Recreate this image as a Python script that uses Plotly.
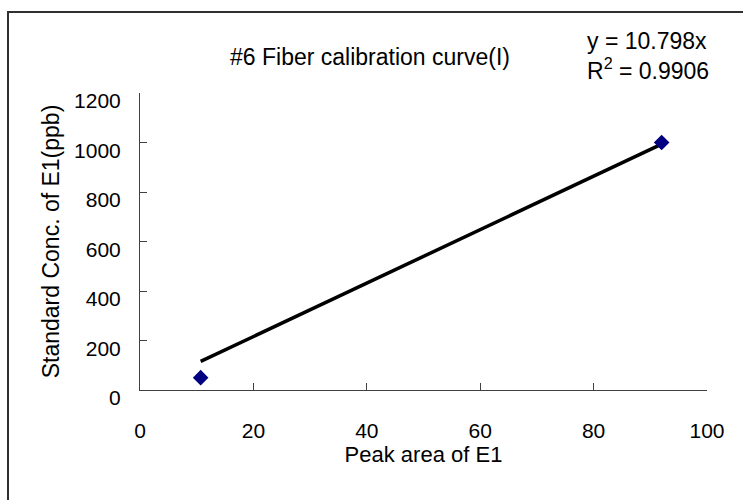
import plotly.graph_objects as go

# ---- data ----
peak_area = [10.7, 92.0]          # Peak area of E1
std_conc = [50, 1000]             # Standard Conc. of E1 (ppb)
trend_slope = 10.798              # trendline through origin
trend_label = ["y = 10.798x", "R<sup>2</sup> = 0.9906"]
x_ticks = [0, 20, 40, 60, 80, 100]
y_ticks = [0, 200, 400, 600, 800, 1000, 1200]
title_text = "#6 Fiber calibration curve(I)"
x_title = "Peak area of E1"
y_title = "Standard Conc. of E1(ppb)"

W, H = 743, 500
ML, MR, MT, MB = 140, 36, 93, 110
PW, PH = W - ML - MR, H - MT - MB

def px_x(p):
    return (p - ML) / PW

def px_y(p):
    return (H - MB - p) / PH

font_fam = "Liberation Sans, Arial, sans-serif"

trend_x = [min(peak_area), max(peak_area)]
trend_y = [trend_slope * v for v in trend_x]

fig = go.Figure()
fig.add_trace(go.Scatter(x=trend_x, y=trend_y, mode="lines",
                         line=dict(color="black", width=3.5), hoverinfo="skip"))
fig.add_trace(go.Scatter(x=peak_area, y=std_conc, mode="markers",
                         marker=dict(symbol="diamond", size=12, color="#000080",
                                     line=dict(width=0))))

axis_common = dict(showgrid=False, zeroline=False, showline=True, linecolor="#404040",
                   linewidth=1, ticks="inside", ticklen=7, tickcolor="#404040",
                   tickfont=dict(family=font_fam, size=21, color="black"))

fig.update_layout(
    width=W, height=H, margin=dict(l=ML, r=MR, t=MT, b=MB),
    paper_bgcolor="white", plot_bgcolor="white", showlegend=False,
    xaxis=dict(range=[0, 100], tickvals=x_ticks, ticklabelstandoff=22,
               title=dict(text=x_title, font=dict(family=font_fam, size=22, color="black"),
                          standoff=2),
               **axis_common),
    yaxis=dict(range=[0, 1200], tickvals=y_ticks, ticklabelstandoff=14, ticklabelshift=8,
               title=dict(text=y_title, font=dict(family=font_fam, size=23, color="black"),
                          standoff=8),
               **axis_common),
    shapes=[dict(type="rect", xref="paper", yref="paper",
                 x0=px_x(8), y0=px_y(H + 20), x1=px_x(W + 20), y1=px_y(12),
                 line=dict(color="#303030", width=2), fillcolor="rgba(0,0,0,0)", layer="below")],
    annotations=[
        dict(text=title_text, xref="paper", yref="paper", x=px_x(370), y=px_y(57),
             showarrow=False, xanchor="center", yanchor="middle",
             font=dict(family=font_fam, size=23, color="black")),
        dict(text="<br>".join(trend_label), xref="paper", yref="paper", x=px_x(648), y=px_y(56),
             showarrow=False, xanchor="center", yanchor="middle", align="left",
             font=dict(family=font_fam, size=23, color="black")),
    ],
)

fig.write_html("out.html")
